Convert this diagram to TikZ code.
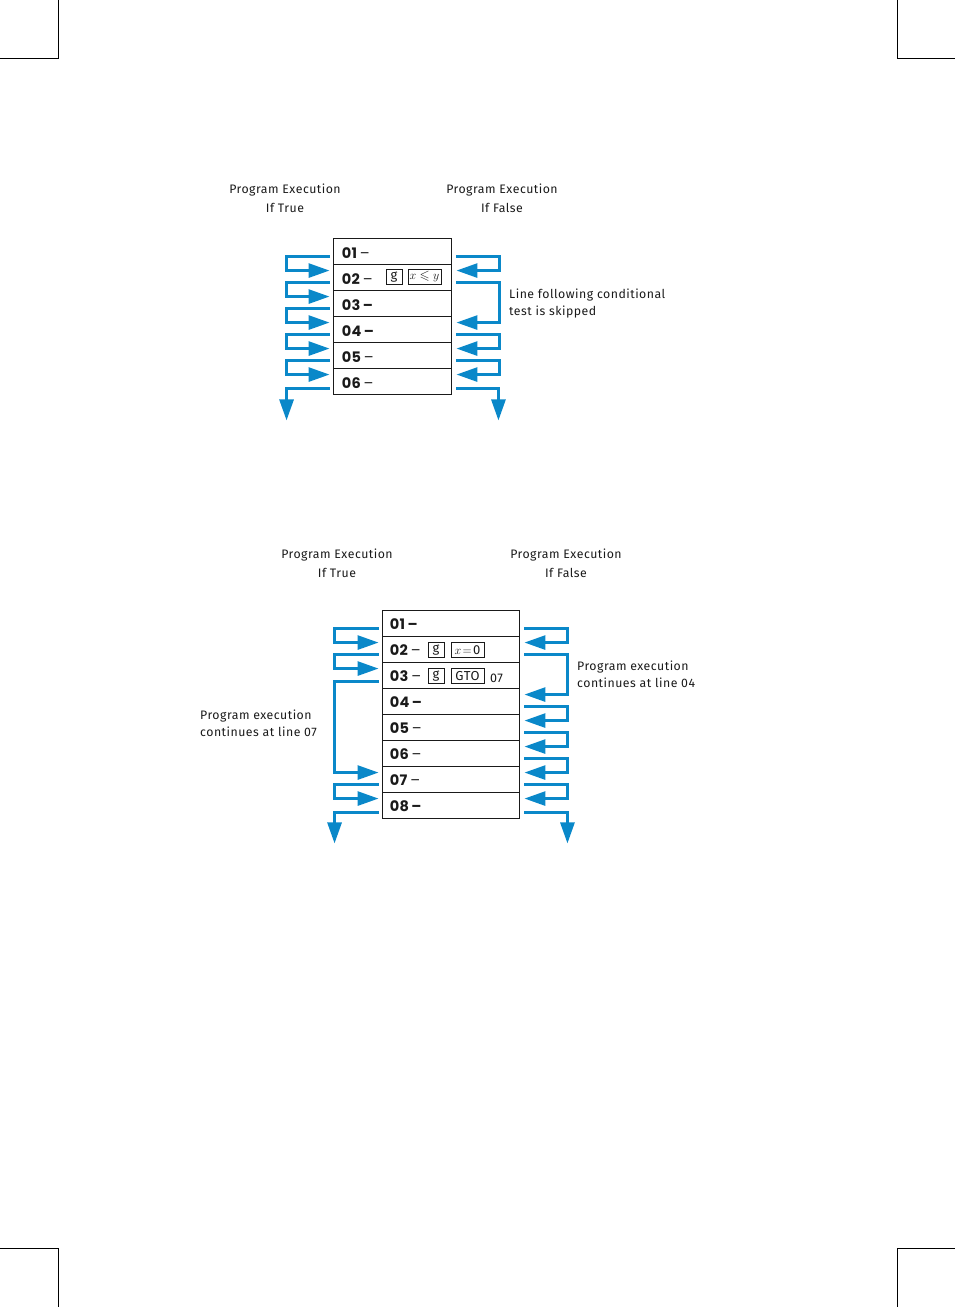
\documentclass[tikz,border=0pt]{standalone}
\usepackage{amssymb}
\usepackage{fontspec}
\setmainfont{Fira Sans}[LetterSpace=4]
\newfontfamily\digitfont{Poppins}[LetterSpace=3]
\usetikzlibrary{arrows.meta,calc}
\definecolor{flowblue}{HTML}{0A88C9}
\definecolor{inkgray}{HTML}{1A1A1A}
\tikzset{
  crop/.style={line width=1pt,black},
  rowbox/.style={draw=inkgray,line width=0.9pt,minimum height=26pt,inner sep=0pt},
  rowtext/.style={anchor=west,inner sep=0pt,font=\digitfont\fontsize{14.5}{16}\selectfont,text=inkgray},
  keybox/.style={draw=inkgray,line width=0.6pt,minimum height=15pt,inner sep=1pt,font=\fontsize{13}{14}\selectfont,text=inkgray},
  caption/.style={align=center,inner sep=0pt,font=\fontsize{12.3}{19}\selectfont,text=inkgray},
  note/.style={align=left,anchor=west,inner sep=0pt,font=\fontsize{12.3}{17}\selectfont,text=inkgray},
  flow/.style={draw=flowblue,line width=2.8pt,line join=miter,-{Triangle[length=21pt,width=14pt]}},
}
\begin{document}
\begin{tikzpicture}[x=1pt,y=-1pt]
\useasboundingbox (0,0) rectangle (955,1307);
% crop marks
\draw[crop] (58,0) -- (58,58) -- (0,58);
\draw[crop] (897,0) -- (897,58) -- (955,58);
\draw[crop] (0,1248) -- (58,1248) -- (58,1307);
\draw[crop] (955,1248) -- (897,1248) -- (897,1307);

% ---------- Diagram 1 ----------
\node[caption] (h1a) at (285,198.5) {Program Execution\\If True};
\node[caption] (h1b) at (502,198.5) {Program Execution\\If False};
\foreach \i in {1,...,6}{
  \node[rowbox,minimum width=118pt] (A\i) at (392,{251+26*(\i-1)}) {};
}
\node[rowtext] (A1t) at ($(A1.west)+(9,2)$) {\textbf{01}\,–};
\node[rowtext] (A2t) at ($(A2.west)+(9,2)$) {\textbf{02}\,–};
\node[rowtext] (A3t) at ($(A3.west)+(9,2)$) {\textbf{03\,–}};
\node[rowtext] (A4t) at ($(A4.west)+(9,2)$) {\textbf{04\,–}};
\node[rowtext] (A5t) at ($(A5.west)+(9,2)$) {\textbf{05}\,–};
\node[rowtext] (A6t) at ($(A6.west)+(9,2)$) {\textbf{06}\,–};
\node[keybox,minimum width=16pt] (k1g) at (394,277) {g};
\node[keybox,minimum width=33pt] (k1x) at (424.5,277) {$x\leqslant y$};
\node[note] (n1) at (509,304) {Line following conditional\\test is skipped};

% left flows
\foreach \i in {2,...,6}{
  \draw[flow] ($(A\i.north west)+(-3,-7)$) -- ($(A\i.north west)+(-46,-7)$)
     -- ($(A\i.north west)+(-46,7)$) -- ($(A\i.north west)+(-3,7)$);
}
\draw[flow] ($(A6.south west)+(-3,-6)$) -- ($(A6.south west)+(-46,-6)$) -- ($(A6.south west)+(-46,26)$);
% right flows
\draw[flow] ($(A2.north east)+(5,-7)$) -- ($(A2.north east)+(48,-7)$)
   -- ($(A2.north east)+(48,7)$) -- ($(A2.north east)+(5,7)$);
\draw[flow] ($(A3.north east)+(5,-7)$) -- ($(A3.north east)+(48,-7)$)
   -- ($(A4.north east)+(48,7)$) -- ($(A4.north east)+(5,7)$);
\foreach \i in {5,6}{
  \draw[flow] ($(A\i.north east)+(5,-7)$) -- ($(A\i.north east)+(48,-7)$)
     -- ($(A\i.north east)+(48,7)$) -- ($(A\i.north east)+(5,7)$);
}
\draw[flow] ($(A6.south east)+(5,-6)$) -- ($(A6.south east)+(47,-6)$) -- ($(A6.south east)+(47,26)$);

% ---------- Diagram 2 ----------
\node[caption] (h2a) at (337,563.5) {Program Execution\\If True};
\node[caption] (h2b) at (566,563.5) {Program Execution\\If False};
\foreach \i in {1,...,8}{
  \node[rowbox,minimum width=137pt] (B\i) at (450.5,{623+26*(\i-1)}) {};
}
\node[rowtext] (B1t) at ($(B1.west)+(8,1)$) {\textbf{01\,–}};
\node[rowtext] (B2t) at ($(B2.west)+(8,1)$) {\textbf{02}\,–};
\node[rowtext] (B3t) at ($(B3.west)+(8,1)$) {\textbf{03}\,–};
\node[rowtext] (B4t) at ($(B4.west)+(8,1)$) {\textbf{04\,–}};
\node[rowtext] (B5t) at ($(B5.west)+(8,1)$) {\textbf{05}\,–};
\node[rowtext] (B6t) at ($(B6.west)+(8,1)$) {\textbf{06}\,–};
\node[rowtext] (B7t) at ($(B7.west)+(8,1)$) {\textbf{07}\,–};
\node[rowtext] (B8t) at ($(B8.west)+(8,1)$) {\textbf{08\,–}};
\node[keybox,minimum width=16pt] (k2g) at (436,650) {g};
\node[keybox,minimum width=33pt] (k2x) at (467.5,650) {$x\!=\!\mbox{0}$};
\node[keybox,minimum width=16pt] (k3g) at (436,676) {g};
\node[keybox,minimum width=33pt] (k3t) at (467.5,676) {GTO};
\node[anchor=west,inner sep=0pt,font=\fontsize{12.5}{13}\selectfont,text=inkgray] (k3n) at (490,678) {07};
\node[note] (n2) at (577,674.5) {Program execution\\continues at line 04};
\node[note] (n3) at (200,723.5) {Program execution\\continues at line 07};

% left flows
\foreach \i in {2,3,8}{
  \draw[flow] ($(B\i.north west)+(-3,-7)$) -- ($(B\i.north west)+(-47,-7)$)
     -- ($(B\i.north west)+(-47,7)$) -- ($(B\i.north west)+(-3,7)$);
}
\draw[flow] ($(B3.south west)+(-3,-7)$) -- ($(B3.south west)+(-47,-7)$)
   -- ($(B7.north west)+(-47,7)$) -- ($(B7.north west)+(-3,7)$);
\draw[flow] ($(B8.south west)+(-3,-6)$) -- ($(B8.south west)+(-47,-6)$) -- ($(B8.south west)+(-47,25)$);
% right flows
\draw[flow] ($(B2.north east)+(5,-7)$) -- ($(B2.north east)+(48,-7)$)
   -- ($(B2.north east)+(48,7)$) -- ($(B2.north east)+(5,7)$);
\draw[flow] ($(B3.north east)+(5,-7)$) -- ($(B3.north east)+(48,-7)$)
   -- ($(B4.north east)+(48,7)$) -- ($(B4.north east)+(5,7)$);
\foreach \i in {5,...,8}{
  \draw[flow] ($(B\i.north east)+(5,-7)$) -- ($(B\i.north east)+(48,-7)$)
     -- ($(B\i.north east)+(48,7)$) -- ($(B\i.north east)+(5,7)$);
}
\draw[flow] ($(B8.south east)+(5,-6)$) -- ($(B8.south east)+(48,-6)$) -- ($(B8.south east)+(48,25)$);
\end{tikzpicture}
\end{document}
